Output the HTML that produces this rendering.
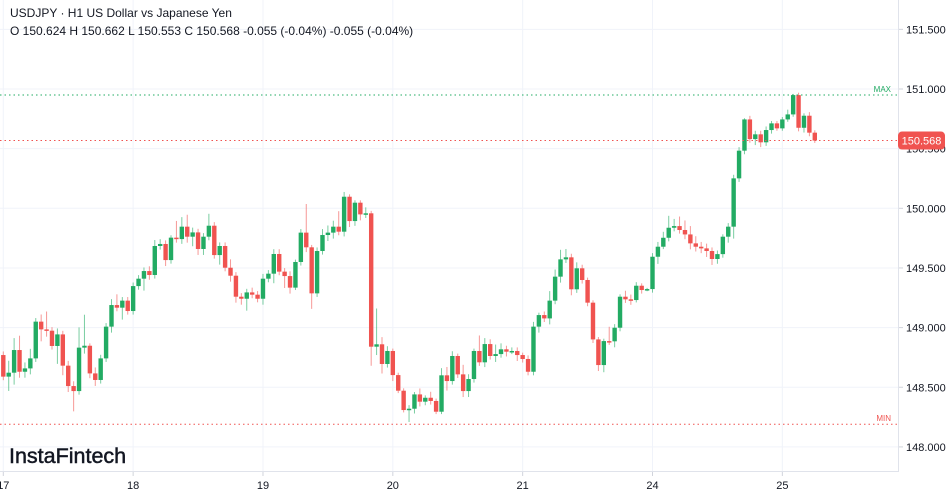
<!DOCTYPE html>
<html><head><meta charset="utf-8">
<style>
body{margin:0;background:#fff;font-family:"Liberation Sans",sans-serif;}
svg{display:block}
</style></head>
<body>
<svg id="chart" width="952" height="494" viewBox="0 0 952 494" xmlns="http://www.w3.org/2000/svg">
<g id="grid"></g>
<g id="candles"></g>
<g id="overlay"></g>
<text x="10" y="17" font-size="12" fill="#131722">USDJPY · H1 US Dollar vs Japanese Yen</text>
<text x="10" y="35" font-size="12" fill="#131722">O 150.624 H 150.662 L 150.553 C 150.568 -0.055 (-0.04%) -0.055 (-0.04%)</text>
<text x="9" y="463" font-size="21.5" fill="#131722" stroke="#131722" stroke-width="0.5">InstaFintech</text>
</svg>
<script>
const closes=[148.589,148.622,148.812,148.630,148.658,148.742,149.050,148.985,148.974,148.846,
148.943,148.681,148.510,148.468,148.832,148.848,148.616,148.561,148.742,149.008,
149.189,149.167,149.226,149.139,149.348,149.410,149.474,149.441,149.684,149.701,
149.566,149.754,149.742,149.846,149.762,149.798,149.659,149.762,149.854,149.608,
149.684,149.502,149.435,149.259,149.242,149.295,149.276,149.242,149.410,149.452,
149.617,149.469,149.432,149.335,149.550,149.796,149.673,149.287,149.642,149.776,
149.796,149.846,149.804,150.097,149.893,150.047,149.949,149.958,148.840,148.860,
148.695,148.804,148.602,148.471,148.309,148.320,148.440,148.379,148.412,148.385,
148.295,148.600,148.552,148.762,148.608,148.468,148.569,148.804,148.709,148.862,
148.762,148.778,148.818,148.798,148.804,148.770,148.737,148.630,149.008,149.105,
149.077,149.226,149.427,149.572,149.589,149.321,149.497,149.399,149.209,148.901,
148.686,148.887,148.885,148.999,149.259,149.237,149.231,149.351,149.315,149.323,
149.594,149.678,149.753,149.837,149.851,149.818,149.781,149.706,149.678,149.664,
149.642,149.575,149.616,149.762,149.846,150.251,150.483,150.745,150.580,150.620,
150.553,150.656,150.712,150.670,150.745,150.787,150.949,150.675,150.776,150.634,150.568];
const firstOpen=148.770;
const wickUp=[.03,.10,.10,.12,.05,.08,.03,.06,.15,.03,.05,.03,.04,.04,.17,.26,.02,.05,.03,.03,
.05,.09,.03,.03,.03,.03,.03,.04,.05,.04,.03,.02,.14,.08,.10,.04,.03,.03,.10,.03,
.03,.03,.07,.03,.03,.03,.04,.03,.04,.03,.04,.04,.03,.04,.02,.03,.24,.02,.03,.05,
.06,.05,.13,.04,.02,.02,.02,.05,.02,.30,.06,.04,.02,.02,.02,.03,.02,.05,.02,.05,
.02,.06,.07,.04,.02,.08,.04,.02,.13,.05,.04,.08,.05,.03,.03,.03,.02,.03,.04,.02,
.03,.08,.06,.08,.07,.03,.05,.03,.02,.02,.02,.02,.12,.03,.02,.05,.04,.03,.02,.01,
.03,.04,.05,.10,.06,.08,.08,.07,.06,.04,.04,.03,.03,.02,.03,.03,.03,.01,.03,.03,
.03,.03,.02,.02,.02,.04,.01,.02,.02,.03,.02];
const wickDn=[.03,.12,.10,.05,.05,.05,.03,.10,.05,.03,.15,.08,.05,.17,.03,.05,.04,.05,.03,.03,
.05,.03,.10,.03,.03,.03,.10,.04,.03,.03,.05,.03,.03,.04,.05,.08,.05,.05,.03,.03,
.08,.03,.05,.05,.05,.10,.03,.03,.05,.03,.08,.03,.10,.05,.02,.03,.04,.13,.03,.03,
.05,.05,.03,.04,.05,.04,.05,.03,.16,.07,.08,.03,.05,.02,.02,.10,.04,.04,.03,.03,
.02,.02,.08,.03,.03,.05,.05,.03,.03,.04,.03,.05,.03,.04,.02,.05,.03,.03,.03,.05,
.03,.05,.03,.05,.03,.05,.03,.03,.03,.03,.05,.06,.03,.05,.03,.03,.04,.02,.03,.01,
.03,.06,.02,.03,.03,.03,.04,.05,.04,.04,.05,.05,.04,.03,.05,.10,.03,.03,.03,.05,
.04,.03,.03,.02,.02,.02,.02,.03,.04,.03,.02];
const priceTicks=[151.5,151.0,150.5,150.0,149.5,149.0,148.5,148.0];
const dayLabels=["17","18","19","20","21","24","25"];
const dayIndex=[0,24,48,72,96,120,144];
const maxPrice=150.95, minPrice=148.19, lastPrice=150.568;

const NS="http://www.w3.org/2000/svg";
const yS=p=>89+(151-p)*119.3;
const xS=i=>3.3+i*5.41;
function mk(tag,attrs,parent){const e=document.createElementNS(NS,tag);for(const k in attrs)e.setAttribute(k,attrs[k]);parent.appendChild(e);return e;}
const grid=document.getElementById('grid'),cg=document.getElementById('candles'),ov=document.getElementById('overlay');

priceTicks.forEach(p=>{
  const l=mk('line',{x1:0,x2:898,y1:yS(p),y2:yS(p),stroke:'#f0f3fa','stroke-width':1},grid);
  
  
  const tk=mk('line',{x1:899,x2:903,y1:yS(p),y2:yS(p),stroke:'#d1d4dc','stroke-width':1},grid);
  
  
  const t=mk('text',{x:906,y:yS(p)+4,'font-size':11,fill:'#131722'},grid);
  t.textContent=p.toFixed(3);
  
  
});
dayIndex.forEach((d,k)=>{
  const x=xS(d);
  const l=mk('line',{x1:x,x2:x,y1:0,y2:472,stroke:'#f0f3fa','stroke-width':1},grid);
  
  
  const tk=mk('line',{x1:x,x2:x,y1:472,y2:476,stroke:'#d1d4dc','stroke-width':1},grid);
  
  
  const t=mk('text',{x:x,y:489,'font-size':11,fill:'#131722','text-anchor':'middle'},grid);
  t.textContent=dayLabels[k];
  
  
});
const ax=mk('line',{x1:898.5,x2:898.5,y1:0,y2:472,stroke:'#e0e3eb'},grid);


const bx=mk('line',{x1:0,x2:898.5,y1:471.5,y2:471.5,stroke:'#e0e3eb'},grid);



closes.forEach((c,i)=>{
  const o=i===0?firstOpen:closes[i-1];
  const up=c>=o;
  const col=up?'#22ab63':'#f05350';
  const hi=Math.max(o,c)+wickUp[i], lo=Math.min(o,c)-wickDn[i];
  const x=xS(i);
  const w=mk('line',{x1:x,x2:x,y1:yS(hi),y2:yS(lo),stroke:col,'stroke-width':1,'stroke-opacity':0.6},cg);
  
  
  const top=yS(Math.max(o,c)), h=Math.max(1.5,yS(Math.min(o,c))-top);
  const b=mk('rect',{x:x-2.2,y:top,width:4.4,height:h,fill:col},cg);
  
  
});

function hline(p,col,name,label){
  const l=mk('line',{x1:0,x2:898,y1:yS(p),y2:yS(p),stroke:col,'stroke-width':1,'stroke-dasharray':'1.5 3'},ov);
  
  
  if(label){const t=mk('text',{x:891,y:yS(p)-3,'font-size':8,fill:col,'text-anchor':'end'},ov);
    t.textContent=label;
    
    }
}
hline(maxPrice,'#22ab63','max-line','MAX');
hline(minPrice,'#f05350','min-line','MIN');
hline(lastPrice,'#f05350','last-price-line',null);
const yl=yS(lastPrice);
const r=mk('rect',{x:898,y:yl-9,width:47,height:18,rx:4,fill:'#f05350'},ov);


const lt=mk('text',{x:921.5,y:yl+4,'font-size':11,fill:'#fff','text-anchor':'middle'},ov);
lt.textContent=lastPrice.toFixed(3);


</script>
</body></html>
